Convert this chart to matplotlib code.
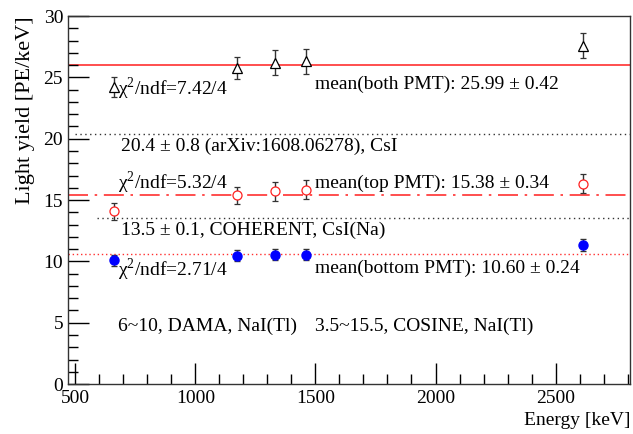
import matplotlib
matplotlib.use("Agg")
import matplotlib.pyplot as plt
from matplotlib.ticker import MultipleLocator

plt.rcParams['font.family'] = ['Liberation Serif', 'DejaVu Serif']
plt.rcParams['mathtext.fontset'] = 'custom'
plt.rcParams['mathtext.rm'] = 'Liberation Serif'

# energies of the gamma lines [keV]
energy = [662, 1173, 1333, 1461, 2615]

# light yield [PE/keV]
both_ly = [24.2, 25.8, 26.2, 26.3, 27.6]
both_err = [0.8, 0.9, 1.0, 1.0, 1.0]
top_ly = [14.1, 15.4, 15.7, 15.85, 16.35]
top_err = [0.7, 0.7, 0.75, 0.75, 0.8]
bot_ly = [10.1, 10.45, 10.55, 10.55, 11.35]
bot_err = [0.45, 0.45, 0.45, 0.45, 0.5]

mean_both = 25.99
mean_top = 15.38
mean_bot = 10.60
ref_csi = 20.4
ref_coherent = 13.5

fig = plt.figure(figsize=(6.33, 4.34), dpi=100)
ax = fig.add_axes([0.1074, 0.115, 0.888, 0.848])

# fitted means
ax.axhline(mean_both, color='#ff3030', lw=1.2, zorder=1)
ax.axhline(mean_top, color='#ff3030', lw=1.2, ls=(0, (12, 4, 1.5, 4)), zorder=1)
ax.axhline(mean_bot, color='#ff3030', lw=1.0, ls=(0, (1, 2)), zorder=1)

# references
ax.plot([500, 2810], [ref_csi, ref_csi], color='#333333', lw=1.0, ls=(0, (1, 2.5)), zorder=1)
ax.plot([590, 2810], [ref_coherent, ref_coherent], color='#333333', lw=1.0, ls=(0, (1, 2.5)), zorder=1)

ax.errorbar(energy, both_ly, yerr=both_err, fmt='^', ms=7, mfc='white', mec='black',
            mew=0.9, ecolor='#333333', elinewidth=1.0, capsize=2.5, zorder=3)
ax.errorbar(energy, top_ly, yerr=top_err, fmt='o', ms=6.5, mfc='white', mec='#ff2020',
            mew=0.9, ecolor='#333333', elinewidth=1.0, capsize=2.5, zorder=3)
ax.errorbar(energy, bot_ly, yerr=bot_err, fmt='o', ms=6.5, mfc='#0000ff', mec='#0000ff',
            ecolor='#333333', elinewidth=1.0, capsize=2.5, zorder=3)

fs = 14
ax.text(680, 24.1, 'χ$^2$/ndf=7.42/4', fontsize=fs, va='center')
ax.text(1500, 24.45, 'mean(both PMT): 25.99 ± 0.42', fontsize=fs, va='center')
ax.text(690, 19.4, '20.4 ± 0.8 (arXiv:1608.06278), CsI', fontsize=fs, va='center')
ax.text(680, 16.4, 'χ$^2$/ndf=5.32/4', fontsize=fs, va='center')
ax.text(1500, 16.4, 'mean(top PMT): 15.38 ± 0.34', fontsize=fs, va='center')
ax.text(690, 12.5, '13.5 ± 0.1, COHERENT, CsI(Na)', fontsize=fs, va='center')
ax.text(680, 9.3, 'χ$^2$/ndf=2.71/4', fontsize=fs, va='center')
ax.text(1500, 9.4, 'mean(bottom PMT): 10.60 ± 0.24', fontsize=fs, va='center')
ax.text(680, 4.7, '6~10, DAMA, NaI(Tl)', fontsize=fs, va='center')
ax.text(1500, 4.7, '3.5~15.5, COSINE, NaI(Tl)', fontsize=fs, va='center')

ax.set_xlim(470, 2810)
ax.set_ylim(0, 30)
ax.xaxis.set_major_locator(MultipleLocator(500))
ax.xaxis.set_minor_locator(MultipleLocator(100))
ax.yaxis.set_major_locator(MultipleLocator(5))
ax.yaxis.set_minor_locator(MultipleLocator(1))
ax.tick_params(which='both', direction='in', top=False, right=False, labelsize=fs)
ax.tick_params(which='major', length=15, width=1)
ax.tick_params(which='minor', length=7, width=1)
ax.tick_params(axis='x', pad=4)
for sp in ax.spines.values():
    sp.set_linewidth(1.0)
    sp.set_color('#333333')

ax.set_xlabel('Energy [keV]', fontsize=fs, loc='right')
ax.set_ylabel('Light yield [PE/keV]', fontsize=16, loc='top', labelpad=6)

fig.savefig('out.png', dpi=100)
